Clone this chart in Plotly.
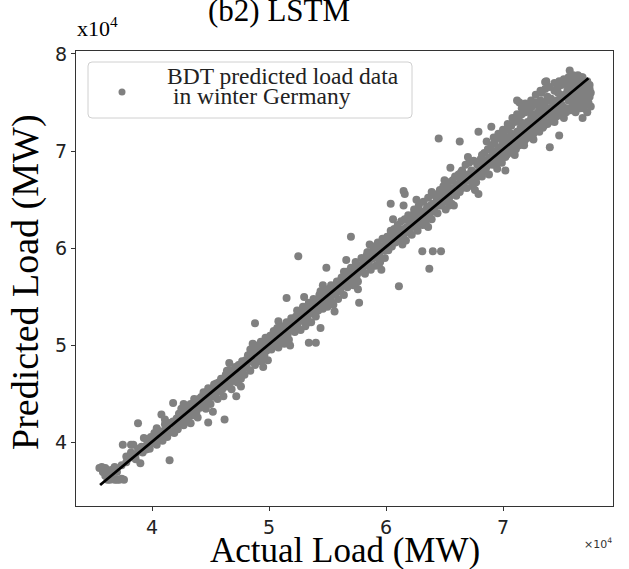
import plotly.graph_objects as go

# Values in units of 10^4 MW
actual_load = [
    3.55, 3.57, 3.58, 3.60, 3.62, 3.64, 3.66, 3.68, 3.70, 3.72, 3.74, 3.76, 3.62, 3.65, 3.70, 3.68, 3.74, 3.78, 3.60,
    3.80, 3.82, 3.84, 3.75, 3.82, 3.86, 3.88, 3.90, 3.92, 3.94, 3.96, 3.98, 3.86, 3.78, 3.93, 3.99,
    4.00, 4.02, 4.04, 4.05, 4.07, 4.08, 4.09, 4.10, 4.12, 4.13, 4.15, 4.15, 4.16, 4.18, 4.18, 4.19, 3.88, 4.04, 4.11, 4.20,
    4.21, 4.22, 4.23, 4.24, 4.25, 4.26, 4.27, 4.28, 4.29, 4.30, 4.31, 4.32, 4.33, 4.34, 4.35, 4.36, 4.37, 4.38, 4.39, 4.40, 4.27, 4.33,
    4.41, 4.42, 4.43, 4.44, 4.45, 4.46, 4.47, 4.48, 4.48, 4.49, 4.50, 4.51, 4.52, 4.52, 4.53, 4.54, 4.55, 4.56, 4.57, 4.58, 4.59, 4.60, 4.62, 4.61,
    4.62, 4.63, 4.64, 4.65, 4.66, 4.67, 4.68, 4.69, 4.70, 4.71, 4.72, 4.72, 4.73, 4.74, 4.75, 4.76, 4.77, 4.78, 4.79, 4.80, 4.66, 4.76,
    4.81, 4.82, 4.83, 4.84, 4.85, 4.86, 4.87, 4.88, 4.88, 4.89, 4.90, 4.91, 4.92, 4.93, 4.94, 4.95, 4.96, 4.97, 4.98, 4.99, 5.00, 4.86, 4.95,
    5.01, 5.02, 5.03, 5.04, 5.05, 5.06, 5.07, 5.08, 5.09, 5.10, 5.11, 5.12, 5.13, 5.14, 5.15, 5.15, 5.16, 5.17, 5.18, 5.19, 5.20, 5.08, 5.18,
    5.21, 5.22, 5.23, 5.24, 5.25, 5.25, 5.26, 5.27, 5.28, 5.29, 5.30, 5.31, 5.32, 5.33, 5.34, 5.34, 5.35, 5.36, 5.37, 5.38, 5.39, 5.40, 5.40, 5.30,
    5.41, 5.42, 5.43, 5.44, 5.44, 5.45, 5.46, 5.47, 5.48, 5.49, 5.49, 5.50, 5.51, 5.52, 5.53, 5.54, 5.55, 5.56, 5.57, 5.58, 5.59, 5.60, 5.46, 5.56,
    5.61, 5.62, 5.63, 5.64, 5.65, 5.66, 5.67, 5.68, 5.69, 5.70, 5.70, 5.71, 5.72, 5.73, 5.74, 5.75, 5.76, 5.77, 5.77, 5.78, 5.79, 5.80, 5.66, 5.76,
    5.81, 5.82, 5.83, 5.84, 5.85, 5.86, 5.87, 5.88, 5.89, 5.90, 5.91, 5.92, 5.93, 5.94, 5.95, 5.96, 5.97, 5.98, 5.99, 6.00, 5.86, 5.96,
    6.01, 6.02, 6.03, 6.04, 6.04, 6.05, 6.06, 6.07, 6.08, 6.09, 6.10, 6.11, 6.11, 6.12, 6.13, 6.14, 6.15, 6.15, 6.16, 6.16, 6.17, 6.18, 6.19, 6.20, 6.15, 6.06,
    6.21, 6.22, 6.23, 6.24, 6.25, 6.26, 6.27, 6.28, 6.29, 6.30, 6.31, 6.31, 6.32, 6.33, 6.34, 6.35, 6.36, 6.37, 6.37, 6.38, 6.39, 6.39, 6.40, 6.40, 6.26, 6.36,
    6.41, 6.42, 6.43, 6.44, 6.45, 6.45, 6.46, 6.47, 6.47, 6.48, 6.49, 6.50, 6.51, 6.52, 6.53, 6.54, 6.55, 6.55, 6.56, 6.57, 6.58, 6.59, 6.60, 6.50, 6.58,
    6.61, 6.62, 6.63, 6.63, 6.64, 6.65, 6.66, 6.67, 6.68, 6.69, 6.70, 6.71, 6.72, 6.73, 6.74, 6.75, 6.76, 6.77, 6.78, 6.79, 6.79, 6.80, 6.70, 6.76,
    6.81, 6.82, 6.83, 6.84, 6.85, 6.86, 6.87, 6.88, 6.89, 6.90, 6.90, 6.91, 6.92, 6.93, 6.94, 6.95, 6.96, 6.97, 6.98, 6.99, 7.00, 7.02, 6.86,
    7.01, 7.02, 7.03, 7.04, 7.05, 7.06, 7.07, 7.08, 7.09, 7.10, 7.11, 7.12, 7.12, 7.13, 7.14, 7.14, 7.15, 7.16, 7.17, 7.18, 7.19, 7.19, 7.20, 7.10, 7.18,
    7.21, 7.22, 7.23, 7.24, 7.25, 7.26, 7.27, 7.28, 7.29, 7.30, 7.31, 7.32, 7.33, 7.34, 7.35, 7.36, 7.36, 7.37, 7.38, 7.39, 7.40, 7.40, 7.37, 7.26, 7.33,
    7.41, 7.42, 7.43, 7.44, 7.45, 7.46, 7.47, 7.48, 7.48, 7.49, 7.50, 7.51, 7.52, 7.53, 7.54, 7.55, 7.56, 7.57, 7.57, 7.58, 7.59, 7.60, 7.44, 7.52,
    7.61, 7.62, 7.63, 7.64, 7.65, 7.66, 7.67, 7.68, 7.69, 7.70, 7.71, 7.72, 7.73, 7.74, 7.75, 7.66, 7.70, 7.62,
]

predicted_load = [
    3.74, 3.75, 3.70, 3.66, 3.62, 3.62, 3.64, 3.62, 3.62, 3.62, 3.63, 3.62, 3.70, 3.72, 3.70, 3.75, 3.77, 3.80, 3.74,
    3.84, 3.90, 3.98, 3.98, 3.98, 3.88, 3.94, 3.79, 3.90, 3.96, 4.00, 3.94, 3.83, 3.86, 4.05, 4.06,
    4.02, 4.10, 3.98, 4.05, 4.12, 4.29, 4.02, 4.08, 4.16, 4.06, 3.82, 4.20, 4.12, 4.41, 4.22, 4.10, 4.20, 4.15, 4.24, 4.17,
    4.25, 4.14, 4.30, 4.20, 4.35, 4.24, 4.18, 4.32, 4.26, 4.38, 4.22, 4.30, 4.40, 4.28, 4.34, 4.45, 4.30, 4.37, 4.26, 4.42, 4.40, 4.20,
    4.36, 4.47, 4.40, 4.52, 4.44, 4.35, 4.49, 4.21, 4.56, 4.46, 4.40, 4.55, 4.32, 4.50, 4.60, 4.47, 4.56, 4.45, 4.62, 4.53, 4.66, 4.55, 4.24, 4.48,
    4.60, 4.70, 4.58, 4.66, 4.75, 4.62, 4.55, 4.72, 4.66, 4.78, 4.48, 4.70, 4.62, 4.80, 4.74, 4.66, 4.84, 4.76, 4.70, 4.85, 4.82, 4.58,
    4.78, 4.90, 4.84, 4.74, 4.92, 4.86, 4.96, 5.23, 4.80, 4.90, 5.00, 4.84, 4.94, 5.04, 4.88, 4.98, 4.90, 5.08, 4.95, 4.85, 5.03, 5.02, 4.78,
    5.10, 4.96, 5.06, 5.15, 5.00, 5.08, 5.18, 4.98, 5.12, 5.05, 5.20, 5.10, 5.02, 5.16, 5.49, 5.24, 5.12, 5.06, 5.20, 5.28, 5.16, 5.25, 5.00,
    5.24, 5.14, 5.30, 5.20, 5.92, 5.34, 5.25, 5.16, 5.32, 5.40, 5.26, 5.20, 5.36, 5.30, 5.03, 5.44, 5.33, 5.24, 5.40, 5.48, 5.36, 5.03, 5.30, 5.50,
    5.44, 5.36, 5.52, 5.18, 5.42, 5.48, 5.38, 5.56, 5.44, 5.80, 5.50, 5.40, 5.58, 5.48, 5.62, 5.52, 5.42, 5.60, 5.54, 5.66, 5.48, 5.62, 5.62, 5.35,
    5.56, 5.70, 5.62, 5.52, 5.68, 5.76, 5.60, 5.72, 5.64, 6.12, 5.80, 5.70, 5.62, 5.78, 5.86, 5.72, 5.66, 5.44, 5.82, 5.76, 5.90, 5.78, 5.88, 5.58,
    5.86, 5.74, 5.92, 5.82, 5.96, 5.88, 5.78, 5.94, 6.02, 5.90, 5.82, 5.98, 6.06, 5.94, 5.86, 6.02, 6.10, 5.98, 5.90, 6.06, 6.04, 5.78,
    6.12, 5.98, 6.08, 6.46, 6.18, 6.02, 6.10, 6.20, 6.06, 6.14, 6.24, 5.61, 6.08, 6.16, 6.28, 6.12, 6.59, 6.20, 6.56, 6.30, 6.08, 6.22, 6.34, 6.16, 6.44, 6.30,
    6.26, 6.14, 6.32, 6.40, 6.24, 6.34, 6.18, 6.44, 6.30, 6.38, 5.97, 6.24, 6.48, 6.36, 6.28, 6.42, 6.52, 5.79, 6.34, 6.44, 6.58, 6.30, 5.97, 6.46, 6.50, 6.22,
    6.40, 6.54, 6.46, 6.36, 7.13, 6.50, 6.60, 5.97, 6.44, 6.54, 6.64, 6.48, 6.40, 6.58, 6.68, 6.52, 6.83, 6.62, 6.46, 6.70, 6.60, 6.74, 6.54, 6.70, 6.44,
    6.66, 6.76, 7.10, 6.58, 6.70, 6.80, 6.64, 6.74, 6.86, 6.62, 6.76, 6.88, 6.70, 6.80, 6.64, 6.90, 6.78, 6.68, 6.86, 7.20, 6.56, 6.80, 6.94, 6.60,
    6.92, 6.74, 6.86, 6.98, 6.80, 6.90, 7.02, 6.76, 6.94, 7.25, 7.06, 6.86, 6.98, 7.10, 6.92, 6.82, 7.04, 7.14, 6.96, 6.88, 7.08, 6.80, 7.10,
    7.16, 7.00, 7.10, 7.22, 6.98, 7.12, 7.26, 7.04, 7.16, 7.30, 7.08, 7.52, 7.20, 7.34, 7.50, 7.10, 7.24, 7.38, 7.14, 7.28, 7.49, 7.40, 7.18, 6.96, 7.06,
    7.30, 7.42, 7.20, 7.34, 7.46, 7.24, 7.38, 7.50, 7.28, 7.40, 7.20, 7.52, 7.34, 7.44, 7.26, 7.71, 7.50, 7.38, 7.56, 7.30, 7.04, 7.44, 7.72, 7.12, 7.60,
    7.54, 7.36, 7.48, 7.62, 7.40, 7.52, 7.66, 7.16, 7.44, 7.58, 7.68, 7.46, 7.56, 7.70, 7.40, 7.62, 7.52, 7.83, 7.72, 7.58, 7.46, 7.66, 7.30, 7.34,
    7.74, 7.56, 7.68, 7.50, 7.72, 7.62, 7.76, 7.54, 7.66, 7.70, 7.58, 7.64, 7.50, 7.68, 7.60, 7.44, 7.48, 7.40,
]

# Dense core of points close to the fitted line
core_actual = [
    3.91, 3.95, 3.97, 4.01, 4.03, 4.06, 4.08, 4.11, 4.14, 4.17, 4.20, 4.23, 4.25, 4.28, 4.30, 4.33, 4.35, 4.38, 4.40,
    4.43, 4.45, 4.47, 4.50, 4.53, 4.55, 4.57, 4.60, 4.63, 4.65, 4.67, 4.70, 4.73, 4.75, 4.77, 4.80, 4.83, 4.85, 4.88,
    4.90, 4.93, 4.95, 4.98, 5.00, 5.03, 5.05, 5.08, 5.10, 5.13, 5.15, 5.18, 5.20, 5.23, 5.25, 5.28, 5.30, 5.33, 5.35,
    5.38, 5.40, 5.43, 5.45, 5.48, 5.50, 5.53, 5.55, 5.58, 5.60, 5.63, 5.65, 5.68, 5.70, 5.73, 5.75, 5.78, 5.80, 5.83,
    5.85, 5.88, 5.90, 5.93, 5.95, 5.98, 6.00, 6.03, 6.05, 6.08, 6.10, 6.13, 6.15, 6.18, 6.20, 6.23, 6.25, 6.28, 6.30,
    6.33, 6.35, 6.38, 6.40, 6.43, 6.45, 6.48, 6.50, 6.53, 6.55, 6.58, 6.60, 6.63, 6.65, 6.68, 6.70, 6.73, 6.75, 6.78,
    6.80, 6.83, 6.85, 6.88, 6.90, 6.93, 6.95, 6.98, 7.00, 7.03, 7.05, 7.08, 7.10, 7.13, 7.15, 7.18, 7.20, 7.23, 7.25,
    7.28, 7.30, 7.33, 7.35, 7.38, 7.40, 7.43, 7.45, 7.48, 7.50, 7.53, 7.55, 7.58, 7.60, 7.63, 7.65, 7.68, 7.70, 7.72,
]
core_predicted = [
    3.96, 3.93, 4.04, 4.00, 4.09, 4.03, 4.11, 4.19, 4.10, 4.21, 4.19, 4.25, 4.22, 4.36, 4.28, 4.35, 4.40, 4.32, 4.45,
    4.44, 4.50, 4.42, 4.53, 4.50, 4.61, 4.55, 4.64, 4.62, 4.71, 4.68, 4.74, 4.72, 4.80, 4.76, 4.78, 4.88, 4.84, 4.94,
    4.88, 4.97, 4.93, 5.02, 4.97, 5.10, 5.06, 5.12, 5.14, 5.11, 5.18, 5.16, 5.25, 5.22, 5.28, 5.27, 5.35, 5.34, 5.38,
    5.35, 5.45, 5.42, 5.52, 5.47, 5.54, 5.52, 5.58, 5.56, 5.66, 5.66, 5.62, 5.74, 5.68, 5.76, 5.80, 5.80, 5.84, 5.85,
    5.83, 5.90, 5.96, 5.92, 6.00, 6.02, 5.98, 6.05, 6.10, 6.12, 6.08, 6.18, 6.14, 6.20, 6.26, 6.22, 6.30, 6.27, 6.34,
    6.32, 6.38, 6.40, 6.38, 6.48, 6.44, 6.50, 6.56, 6.52, 6.58, 6.62, 6.64, 6.66, 6.62, 6.72, 6.70, 6.76, 6.78, 6.74,
    6.86, 6.82, 6.88, 6.92, 6.90, 6.96, 7.00, 7.02, 6.98, 7.05, 7.10, 7.12, 7.08, 7.16, 7.20, 7.22, 7.26, 7.26, 7.30,
    7.32, 7.28, 7.38, 7.40, 7.42, 7.38, 7.46, 7.50, 7.52, 7.48, 7.58, 7.56, 7.62, 7.60, 7.66, 7.64, 7.70, 7.64, 7.72,
]

# Wide upper cluster (high-load hours)
upper_actual = [
    6.92, 6.96, 7.00, 7.04, 7.08, 7.12, 7.16, 7.20, 7.24, 7.28, 7.32, 7.36, 7.40, 7.44, 7.48, 7.52, 7.56, 7.60, 7.64, 7.68,
    6.94, 6.98, 7.02, 7.06, 7.10, 7.14, 7.18, 7.22, 7.26, 7.30, 7.34, 7.38, 7.42, 7.46, 7.50, 7.54, 7.58, 7.62, 7.66, 7.70,
    7.74, 7.72, 7.75, 7.68,
    6.82, 6.86, 6.91, 6.95, 6.99, 7.03, 7.07, 7.11, 7.15, 7.19, 7.23, 7.27, 7.31, 7.35, 7.39, 7.43, 7.47, 7.51, 7.55, 7.59,
    7.63, 7.67, 7.71, 7.74, 7.73, 7.69,
]
upper_predicted = [
    7.14, 7.18, 7.22, 7.28, 7.34, 7.38, 7.44, 7.46, 7.52, 7.58, 7.62, 7.64, 7.66, 7.70, 7.72, 7.74, 7.76, 7.78, 7.78, 7.76,
    6.86, 6.90, 6.94, 7.00, 7.02, 7.06, 7.10, 7.14, 7.18, 7.22, 7.24, 7.28, 7.32, 7.36, 7.38, 7.44, 7.42, 7.46, 7.52, 7.54,
    7.56, 7.40, 7.46, 7.34,
    6.96, 6.84, 7.00, 6.90, 7.12, 6.96, 7.18, 7.02, 7.30, 7.12, 7.40, 7.22, 7.46, 7.32, 7.52, 7.36, 7.60, 7.42, 7.68, 7.52,
    7.72, 7.58, 7.68, 7.64, 7.56, 7.44,
]

# Extra mid-range points filling the band
mid_actual = [
    4.64, 4.74, 4.84, 4.94, 5.04, 5.14, 5.24, 5.34, 5.44, 5.54, 5.64, 5.74, 5.84, 5.94,
    6.04, 6.14, 6.24, 6.34, 6.44, 6.54, 6.64, 6.74,
]
mid_predicted = [
    4.74, 4.64, 4.96, 4.84, 5.14, 5.04, 5.36, 5.24, 5.56, 5.44, 5.76, 5.64, 5.96, 5.84,
    6.14, 6.04, 6.36, 6.24, 6.56, 6.44, 6.78, 6.66,
]

fit_line_actual = [3.556, 7.73]
fit_line_predicted = [3.566, 7.75]

x_tick_values = [4, 5, 6, 7]
x_tick_labels = ["4", "5", "6", "7"]
y_tick_values = [4, 5, 6, 7, 8]
y_tick_labels = ["4", "5", "6", "7", "8"]

title_text = "(b2) LSTM"
legend_line1 = "BDT predicted load data"
legend_line2 = " in winter Germany"
x_title = "Actual Load (MW)"
y_title = "Predicted Load (MW)"

W, H = 629, 569
L, R, T, B = 76, 613, 51, 506  # plot frame in pixels
PW, PH = R - L, B - T


def px(x):
    return (x - L) / PW


def py(y):
    return (B - y) / PH


SERIF = "Liberation Serif, Times New Roman, serif"
SANS = "DejaVu Sans, sans-serif"

all_actual = actual_load + core_actual + upper_actual + mid_actual
all_predicted = predicted_load + core_predicted + upper_predicted + mid_predicted

fig = go.Figure()
fig.add_trace(go.Scatter(
    x=all_actual, y=all_predicted, mode="markers",
    marker=dict(size=8, color="#808080", line=dict(width=0)),
    name=legend_line1 + legend_line2, hoverinfo="skip",
))
fig.add_trace(go.Scatter(
    x=fit_line_actual, y=fit_line_predicted, mode="lines",
    line=dict(color="black", width=2.8), hoverinfo="skip",
))

axis_common = dict(
    showgrid=False, zeroline=False, showline=True, mirror=True,
    linecolor="#333333", linewidth=1, ticks="outside", ticklen=4,
    tickcolor="#333333", tickwidth=1,
    tickfont=dict(family=SANS, size=19, color="#222222"),
)
fig.update_xaxes(range=[3.35, 7.94], tickvals=x_tick_values, ticktext=x_tick_labels, **axis_common)
fig.update_yaxes(range=[3.35, 8.03], tickvals=y_tick_values, ticktext=y_tick_labels, **axis_common)

# legend box (rounded rectangle)
bx0, by0, bx1, by1, r = 88, 62, 412, 118, 4
rx, ry = r / PW, r / PH
X0, X1, Y0, Y1 = px(bx0), px(bx1), py(by1), py(by0)
path = (f"M {X0+rx} {Y0} L {X1-rx} {Y0} Q {X1} {Y0} {X1} {Y0+ry} "
        f"L {X1} {Y1-ry} Q {X1} {Y1} {X1-rx} {Y1} L {X0+rx} {Y1} "
        f"Q {X0} {Y1} {X0} {Y1-ry} L {X0} {Y0+ry} Q {X0} {Y0} {X0+rx} {Y0} Z")
shapes = [
    dict(type="path", xref="paper", yref="paper", path=path,
         line=dict(color="#d0d0d0", width=1), fillcolor="rgba(255,255,255,0.8)", layer="above"),
    dict(type="circle", xref="paper", yref="paper",
         x0=px(118.5), x1=px(125.5), y0=py(95.5), y1=py(88.5),
         fillcolor="#808080", line=dict(width=0), layer="above"),
]

annotations = [
    dict(text=title_text, x=px(279), y=py(10), xref="paper", yref="paper",
         showarrow=False, xanchor="center", yanchor="middle",
         font=dict(family=SERIF, size=31, color="black")),
    dict(text="x10<sup>4</sup>", x=px(97), y=py(27), xref="paper", yref="paper",
         showarrow=False, xanchor="center", yanchor="middle",
         font=dict(family=SERIF, size=22, color="black")),
    dict(text=legend_line1, x=px(165), y=py(76), xref="paper", yref="paper",
         showarrow=False, xanchor="left", yanchor="middle",
         font=dict(family=SERIF, size=23.5, color="#222222")),
    dict(text=legend_line2, x=px(165), y=py(96), xref="paper", yref="paper",
         showarrow=False, xanchor="left", yanchor="middle",
         font=dict(family=SERIF, size=23.5, color="#222222")),
    dict(text=x_title, x=px(345), y=py(550), xref="paper", yref="paper",
         showarrow=False, xanchor="center", yanchor="middle",
         font=dict(family=SERIF, size=35, color="black")),
    dict(text=y_title, x=px(25), y=py(282), xref="paper", yref="paper",
         showarrow=False, xanchor="center", yanchor="middle", textangle=-90,
         font=dict(family=SERIF, size=38, color="black")),
    dict(text="×10<sup>4</sup>", x=px(598), y=py(543), xref="paper", yref="paper",
         showarrow=False, xanchor="center", yanchor="middle",
         font=dict(family=SANS, size=11, color="#333333")),
]

fig.update_layout(
    width=W, height=H,
    margin=dict(l=L, r=W - R, t=T, b=H - B, pad=0),
    plot_bgcolor="white", paper_bgcolor="white",
    showlegend=False, shapes=shapes, annotations=annotations,
)

fig.write_html("out.html")
